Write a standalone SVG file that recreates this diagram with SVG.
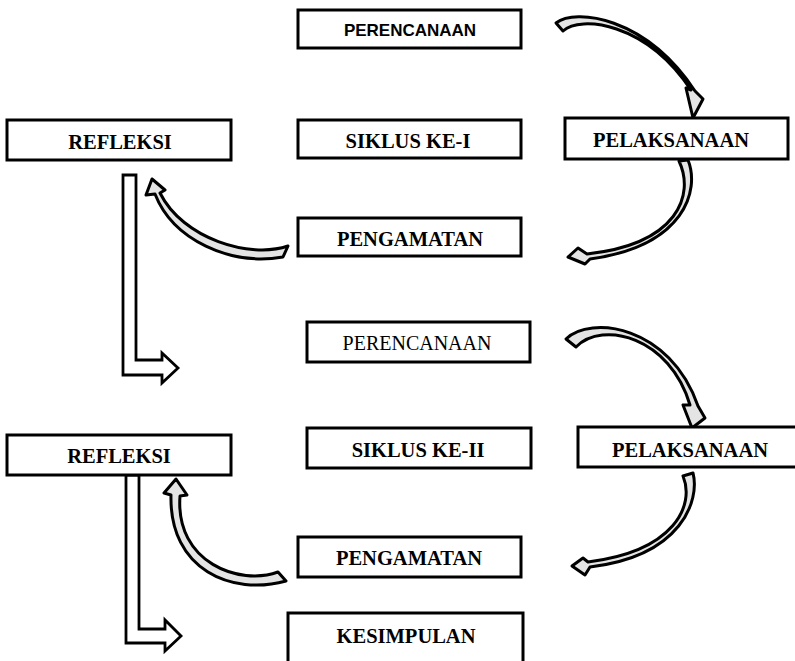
<svg xmlns="http://www.w3.org/2000/svg" width="795" height="661" viewBox="0 0 795 661">
<style>
.box{fill:#fff;stroke:#000;stroke-width:3}
.t{font-family:"Liberation Serif","Times New Roman",serif;font-size:20.5px;font-weight:bold;text-anchor:middle;fill:#000}
.tr{font-family:"Liberation Serif","Times New Roman",serif;font-size:20px;text-anchor:middle;fill:#000}
.ts{font-family:"Liberation Sans",Arial,sans-serif;font-size:17px;font-weight:bold;text-anchor:middle;fill:#000}
.ca{fill:#e4e4e4;stroke:#000;stroke-width:3;stroke-linejoin:round}
.la{fill:#fff;stroke:#000;stroke-width:2.8;stroke-linejoin:miter}
</style>
<rect width="795" height="661" fill="#fff"/>
<g id="connectors">
<path class="ca" d="M556,23 C575,8 645,16 695,91 L703,99 L693,118 L686,88 L691,90 C646,22 580,15 563,31 Z"/>
<path class="ca" d="M679,161 L688,160 C700,190 685,246 590,259 L585,264 L568,257 L578,248 L587,254 C678,244 695,195 679,161 Z"/>
<path class="ca" d="M283,257 C230,266 173,240 155,194 L146,195 L152,179 L165,190 L160,193 C183,239 250,259 288,246 Z"/>
<path class="la" d="M123,175 L136,175 L136,360 L162,360 L162,353 L178,368 L162,383 L162,375 L123,375 Z"/>
<path class="ca" d="M566,339 C590,315 670,325 698,406 L705,418 L692,428 L683,405 L690,405 C670,337 603,320 576,347 Z"/>
<path class="ca" d="M683,476 L693,473 C700,500 682,556 590,567 L585,575 L572,566 L583,558 L588,562 C675,551 695,505 683,476 Z"/>
<path class="ca" d="M286,581 C232,596 169,570 171,495 L164,493 L176,479 L187,495 L180,496 C175,563 240,586 278,572 Z"/>
<path class="la" d="M126,475 L139,475 L139,629 L165,629 L165,620 L181,636 L165,651 L165,643 L126,643 Z"/>
</g>
<g id="perencanaan1"><rect class="box" x="298" y="10" width="223" height="38"/><text class="ts" x="410" y="36">PERENCANAAN</text></g>
<g id="refleksi1"><rect class="box" x="7" y="120" width="224" height="40"/><text class="t" x="120" y="149">REFLEKSI</text></g>
<g id="siklus1"><rect class="box" x="298" y="120" width="223" height="38"/><text class="t" x="408" y="148">SIKLUS KE-I</text></g>
<g id="pelaksanaan1"><rect class="box" x="565" y="118" width="223" height="41"/><text class="t" x="671" y="147">PELAKSANAAN</text></g>
<g id="pengamatan1"><rect class="box" x="298" y="218" width="223" height="38"/><text class="t" x="410" y="246">PENGAMATAN</text></g>
<g id="perencanaan2"><rect class="box" x="307" y="322" width="223" height="40"/><text class="tr" x="417" y="350">PERENCANAAN</text></g>
<g id="siklus2"><rect class="box" x="307" y="428" width="224" height="40"/><text class="t" x="418" y="457">SIKLUS KE-II</text></g>
<g id="pelaksanaan2"><rect class="box" x="578" y="427" width="222" height="40"/><text class="t" x="690" y="457">PELAKSANAAN</text></g>
<g id="refleksi2"><rect class="box" x="7" y="435" width="224" height="40"/><text class="t" x="119" y="463">REFLEKSI</text></g>
<g id="pengamatan2"><rect class="box" x="298" y="537" width="223" height="40"/><text class="t" x="409" y="565">PENGAMATAN</text></g>
<g id="kesimpulan"><rect class="box" x="288" y="613" width="235" height="50"/><text class="t" x="406" y="643">KESIMPULAN</text></g>
</svg>
